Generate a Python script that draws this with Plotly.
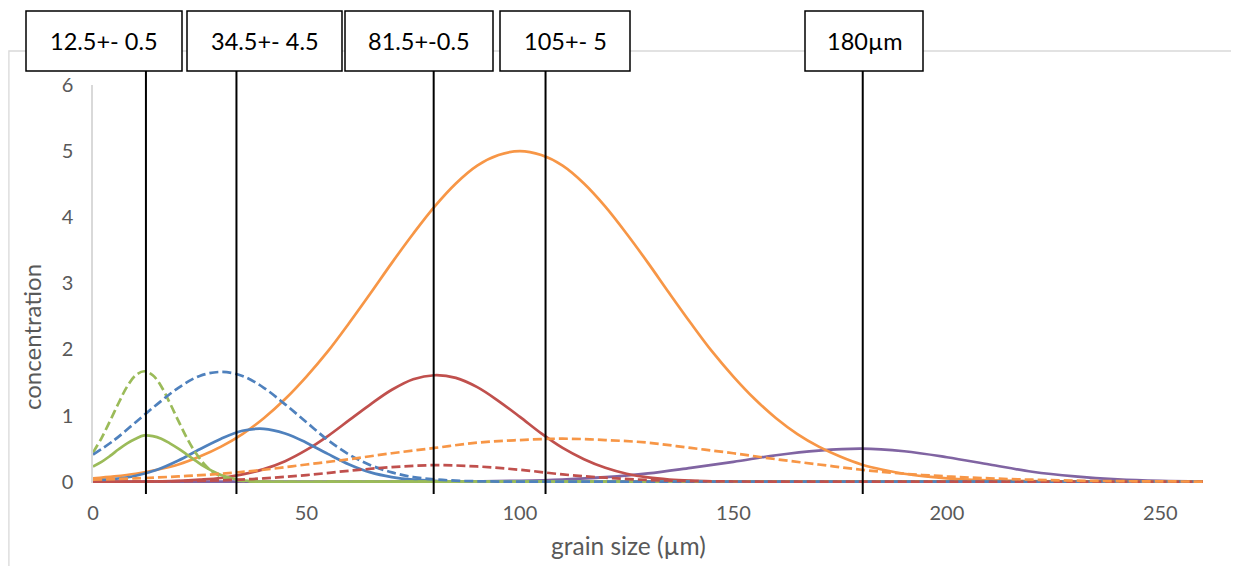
import plotly.graph_objects as go

# ---------------- data ----------------
x_green = [0, 2, 4, 6, 8, 10, 12, 14, 16, 18, 20, 22, 24, 26, 28, 30, 32, 35, 40, 60, 100, 150, 200, 260]
green_dashed = [0.44, 0.66, 0.92, 1.19, 1.44, 1.61, 1.67, 1.61, 1.44, 1.19, 0.92, 0.66, 0.44, 0.27, 0.15,
                0.08, 0.04, 0.01, 0, 0, 0, 0, 0, 0]
green_solid = [0.23, 0.30, 0.39, 0.49, 0.58, 0.65, 0.70, 0.69, 0.65, 0.58, 0.50, 0.41, 0.32, 0.23, 0.16,
               0.10, 0.06, 0.02, 0, 0, 0, 0, 0, 0]

x_blue = [0, 5, 10, 15, 20, 25, 30, 35, 40, 45, 50, 55, 60, 65, 70, 75, 80, 85, 90, 95, 100, 150, 200, 260]
blue_dashed = [0.41, 0.63, 0.90, 1.17, 1.42, 1.60, 1.66, 1.60, 1.42, 1.17, 0.90, 0.63, 0.41, 0.25, 0.14,
               0.07, 0.035, 0.015, 0.006, 0.002, 0, 0, 0, 0]
blue_solid = [0.016, 0.04, 0.09, 0.18, 0.32, 0.49, 0.65, 0.77, 0.80, 0.73, 0.59, 0.42, 0.26, 0.14, 0.07,
              0.03, 0.012, 0.004, 0, 0, 0, 0, 0, 0]

x_red_solid = [0, 10, 20, 25, 30, 35, 40, 45, 50, 55, 60, 65, 70, 75, 80, 85, 90, 95, 100, 105, 110, 115,
               120, 125, 130, 135, 140, 145, 150, 160, 200, 260]
red_solid = [0, 0.002, 0.013, 0.03, 0.056, 0.11, 0.19, 0.31, 0.48, 0.69, 0.93, 1.17, 1.39, 1.55, 1.61, 1.57,
             1.43, 1.22, 0.98, 0.73, 0.51, 0.34, 0.21, 0.12, 0.064, 0.032, 0.015, 0.006, 0.002, 0, 0, 0]

x_red_dashed = [0, 10, 20, 30, 40, 50, 60, 70, 80, 90, 100, 110, 120, 130, 140, 150, 160, 170, 200, 260]
red_dashed = [0.0005, 0.002, 0.007, 0.02, 0.05, 0.10, 0.165, 0.22, 0.25, 0.23, 0.18, 0.11, 0.06, 0.026,
              0.009, 0.003, 0.001, 0, 0, 0]

x_orange_solid = [0, 5, 10, 15, 20, 25, 30, 35, 40, 45, 50, 55, 60, 65, 70, 75, 80, 85, 90, 95, 100, 105,
                  110, 115, 120, 125, 130, 135, 140, 145, 150, 155, 160, 165, 170, 175, 180, 185, 190, 195,
                  200, 205, 210, 220, 230, 240, 250, 260]
orange_solid = [0.05, 0.08, 0.12, 0.18, 0.26, 0.38, 0.53, 0.72, 0.96, 1.25, 1.59, 1.97, 2.40, 2.85, 3.31,
                3.75, 4.16, 4.51, 4.78, 4.94, 5.00, 4.94, 4.78, 4.51, 4.16, 3.75, 3.31, 2.85, 2.40, 1.97,
                1.59, 1.25, 0.96, 0.72, 0.53, 0.38, 0.26, 0.18, 0.12, 0.08, 0.05, 0.03, 0.02, 0.007,
                0.002, 0.001, 0, 0]

x_orange_dashed = [0, 10, 20, 30, 40, 50, 60, 70, 80, 90, 100, 110, 120, 130, 140, 150, 160, 170, 180, 190,
                   200, 210, 220, 230, 240, 250, 260]
orange_dashed = [0.03, 0.05, 0.08, 0.12, 0.18, 0.26, 0.34, 0.43, 0.51, 0.59, 0.63, 0.65, 0.63, 0.59, 0.51,
                 0.43, 0.34, 0.26, 0.18, 0.12, 0.08, 0.05, 0.03, 0.016, 0.008, 0.004, 0.002]

x_purple = [0, 50, 80, 90, 100, 110, 120, 130, 140, 150, 160, 170, 180, 190, 200, 210, 220, 230, 240, 250, 260]
purple_solid = [0, 0, 0.002, 0.006, 0.014, 0.033, 0.068, 0.125, 0.21, 0.30, 0.40, 0.47, 0.50, 0.46, 0.37,
                0.26, 0.15, 0.08, 0.035, 0.013, 0.005]

marker_labels = ["12.5+- 0.5", "34.5+- 4.5", "81.5+-0.5", "105+- 5", "180µm"]
marker_x = [12.4, 33.6, 79.8, 106.0, 180.3]

x_ticks = [0, 50, 100, 150, 200, 250]
y_ticks = [0, 1, 2, 3, 4, 5, 6]

# ---------------- styling ----------------
BLUE, RED, GREEN, PURPLE, ORANGE = "#4F81BD", "#C0504D", "#9BBB59", "#8064A2", "#F79646"
FONT = "Lato"
GREY = "#595959"
OFF = 8  # page body margin offset
W, H = 1239 - OFF, 566 - OFF
PL, PR, PT, PB = 93 - OFF, 1203 - OFF, 85 - OFF, 483 - OFF  # plot area in figure pixels


def px_x(px):
    """reference-screen pixel x -> paper"""
    return (px - OFF - PL) / (PR - PL)


def px_y(py):
    """reference-screen pixel y -> paper"""
    return (PB - (py - OFF)) / (PB - PT)


DASH = "9px,4px"
LW = 2.7

series = [
    (x_purple, purple_solid, PURPLE, "solid"),
    (x_orange_solid, orange_solid, ORANGE, "solid"),
    (x_red_solid, red_solid, RED, "solid"),
    (x_blue, blue_solid, BLUE, "solid"),
    (x_green, green_solid, GREEN, "solid"),
    (x_green, green_dashed, GREEN, DASH),
    (x_blue, blue_dashed, BLUE, DASH),
    (x_red_dashed, red_dashed, RED, DASH),
    (x_orange_dashed, orange_dashed, ORANGE, DASH),
]

fig = go.Figure()
for xs, ys, col, dash in series:
    fig.add_trace(go.Scatter(x=xs, y=ys, mode="lines",
                             line=dict(color=col, width=LW, dash=dash, shape="spline", smoothing=1.0),
                             showlegend=False, hoverinfo="skip"))

shapes = []
# outer chart border
shapes.append(dict(type="rect", xref="paper", yref="paper",
                   x0=px_x(8.9), x1=px_x(1237.2), y0=px_y(580), y1=px_y(51),
                   line=dict(color="#D9D9D9", width=1.3), fillcolor="rgba(0,0,0,0)", layer="below"))

# vertical marker lines
for mx in marker_x:
    shapes.append(dict(type="line", xref="x", yref="paper", x0=mx, x1=mx,
                       y0=px_y(494), y1=px_y(71), line=dict(color="black", width=2), layer="above"))

# label boxes
box_px = [(26, 182), (187, 342), (345, 493), (500, 630), (805, 923)]
annotations = []
for (bx0, bx1), lab in zip(box_px, marker_labels):
    shapes.append(dict(type="rect", xref="paper", yref="paper",
                       x0=px_x(bx0), x1=px_x(bx1), y0=px_y(71), y1=px_y(11),
                       line=dict(color="black", width=1.5), fillcolor="white", layer="above"))
    annotations.append(dict(xref="paper", yref="paper", x=px_x((bx0 + bx1) / 2), y=px_y(41),
                            text=lab, showarrow=False, xanchor="center", yanchor="middle",
                            font=dict(family=FONT, size=23.5, color="black")))

# axis titles
annotations.append(dict(xref="paper", yref="paper", x=px_x(628), y=px_y(545), text="grain size (µm)",
                        showarrow=False, xanchor="center", yanchor="middle",
                        font=dict(family=FONT, size=24.5, color=GREY)))
annotations.append(dict(xref="paper", yref="paper", x=px_x(31), y=px_y(337), text="concentration",
                        showarrow=False, xanchor="center", yanchor="middle", textangle=-90,
                        font=dict(family=FONT, size=24, color=GREY)))

fig.update_layout(
    width=W, height=H,
    margin=dict(l=PL, r=W - PR, t=PT, b=H - PB, autoexpand=False),
    paper_bgcolor="white", plot_bgcolor="white",
    shapes=shapes, annotations=annotations,
    font=dict(family=FONT, color=GREY),
)
fig.update_xaxes(range=[0, 260], tickvals=x_ticks, ticktext=[str(v) for v in x_ticks],
                 showgrid=False, zeroline=False, showline=False, ticks="",
                 ticklabelstandoff=16, tickfont=dict(family=FONT, size=20, color=GREY), automargin=False)
fig.update_yaxes(range=[-0.02, 6], tickvals=y_ticks, ticktext=[str(v) for v in y_ticks],
                 showgrid=False, zeroline=False, showline=True, linecolor="#D9D9D9", linewidth=1.5,
                 ticks="", ticklabelstandoff=14, tickfont=dict(family=FONT, size=20, color=GREY),
                 automargin=False, layer="below traces")

fig.write_html("out.html")
